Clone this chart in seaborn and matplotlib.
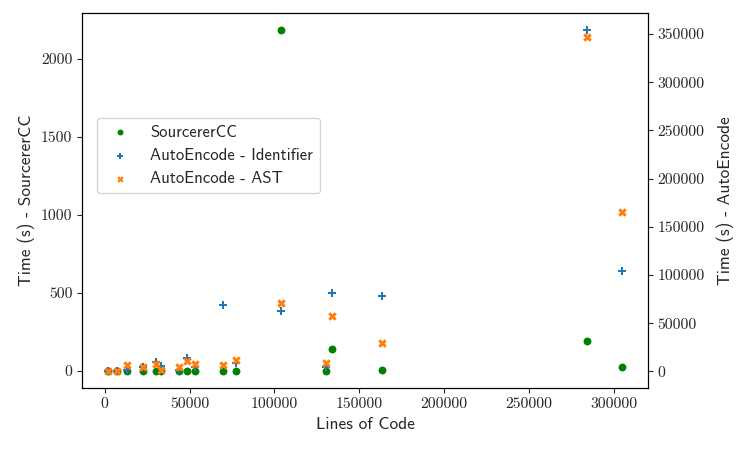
import numpy as np
import pandas as pd
import matplotlib
matplotlib.use("Agg")
import matplotlib.pyplot as plt
from matplotlib.ticker import FuncFormatter
import seaborn as sns

# lines of code per project
loc = [1800, 7100, 13000, 22500, 30200, 33200, 43900, 48300, 53000, 69600,
       77400, 103600, 130100, 133800, 163600, 284100, 304900]
# SourcererCC time (s)
scc_time = [1, 1, 3, 1, 2, 2, 2, 2, 3, 1, 2, 2183, 2, 141, 6, 192, 26]
# AutoEncode time (s)
ae_ident = [500, 500, 1800, 4500, 9400, 5900, 1800, 13500, 4500, 68800,
            8300, 63200, 4200, 80900, 78100, 354200, 103900]
ae_ast = [730, 730, 6600, 4900, 7600, 1800, 4200, 10700, 7600, 7000,
          12200, 71200, 8300, 58000, 29400, 346900, 165600]

sns.set_style("ticks")
plt.rcParams["axes.unicode_minus"] = False
plt.rcParams["font.family"] = ["cmss10", "DejaVu Sans"]

df = pd.DataFrame({"loc": loc, "scc": scc_time, "ident": ae_ident, "ast": ae_ast})

fig = plt.figure(figsize=(7.47, 4.49), dpi=100)
ax = fig.add_axes([0.1098, 0.1359, 0.7577, 0.8351])
ax2 = ax.twinx()

sns.scatterplot(data=df, x="loc", y="scc", ax=ax, color="green", marker="o",
                s=32, linewidth=0, label="SourcererCC", legend=False)
sns.scatterplot(data=df, x="loc", y="ident", ax=ax2, color="tab:blue", marker="P",
                s=38, linewidth=0, label="AutoEncode - Identifier", legend=False)
sns.scatterplot(data=df, x="loc", y="ast", ax=ax2, color="tab:orange", marker="X",
                s=38, linewidth=0, label="AutoEncode - AST", legend=False)

ax.set_xlabel("Lines of Code", fontsize=12.5)
ax.set_ylabel("Time (s) - SourcererCC", fontsize=12.5)
ax2.set_ylabel("Time (s) - AutoEncode", fontsize=12.5, labelpad=8)

ax.set_xticks([0, 50000, 100000, 150000, 200000, 250000, 300000])
ax.set_yticks([0, 500, 1000, 1500, 2000])
ax2.set_yticks([0, 50000, 100000, 150000, 200000, 250000, 300000, 350000])

fmt = FuncFormatter(lambda v, p: f"{int(v)}")
for a in (ax, ax2):
    a.yaxis.set_major_formatter(fmt)
    for lab in a.get_yticklabels():
        lab.set_fontfamily("cmr10")
        lab.set_fontsize(11.3)
    for sp in a.spines.values():
        sp.set_visible(True)
        sp.set_color("black")
ax.xaxis.set_major_formatter(fmt)
for lab in ax.get_xticklabels():
    lab.set_fontfamily("cmr10")
    lab.set_fontsize(11.3)

h1, l1 = ax.get_legend_handles_labels()
h2, l2 = ax2.get_legend_handles_labels()
ax2.legend(h1 + h2, l1 + l2, loc="upper left", bbox_to_anchor=(0.0265, 0.72),
           borderaxespad=0, fontsize=12, markerscale=0.75)

fig.savefig("out.png", dpi=100)
